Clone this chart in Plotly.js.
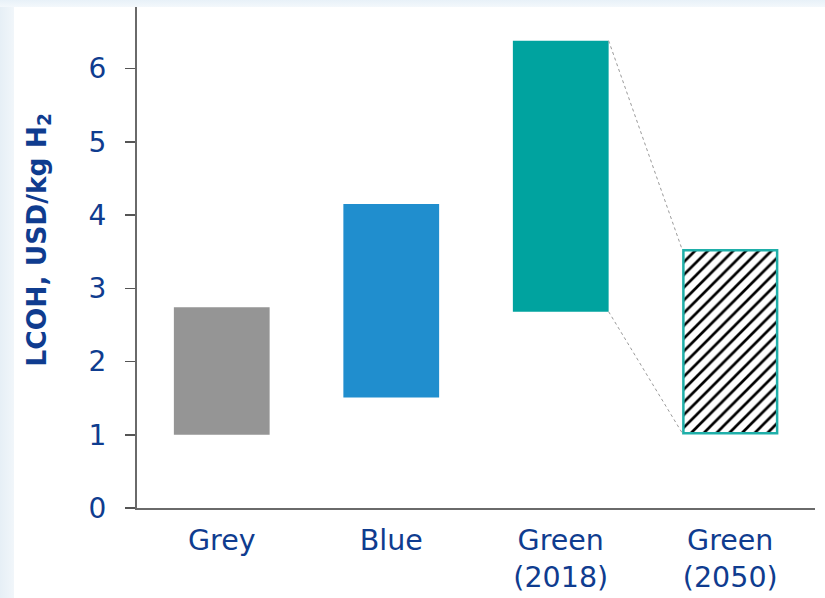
<!DOCTYPE html>
<html>
<head>
<meta charset="utf-8">
<script src="https://cdn.plot.ly/plotly-3.0.1.min.js"></script>
<style>
  html, body { margin: 0; padding: 0; background: #ffffff; }
  #wrap {
    width: 825px; height: 598px; position: relative;
    background:
      linear-gradient(to bottom, #e8f1f8 0px, #f3f8fc 7px, rgba(255,255,255,0) 7px),
      linear-gradient(to right, #e6eff6 0px, #f1f6fa 14px, rgba(255,255,255,0) 14px),
      #ffffff;
  }
  #chart { width: 825px; height: 598px; }
</style>
</head>
<body>
<div id="wrap"><div id="chart"></div></div>
<script>
// ---- data ----
const categories = ["Grey", "Blue", "Green<br>(2018)", "Green<br>(2050)"];
const lowValues  = [1.00, 1.51, 2.68, 1.02];
const highValues = [2.74, 4.15, 6.38, 3.52];
const barColors  = ["#959595", "#208ECE", "#00A39F"];
const yTickValues = [0, 1, 2, 3, 4, 5, 6];
const yTickLabels = ["0", "1", "2", "3", "4", "5", "6"];
const yAxisTitle = "<b>LCOH, USD/kg H<sub>2</sub></b>";

// ---- styles ----
const textColor = "#0F3C8F";
const fontFamily = "DejaVu Sans, Verdana, sans-serif";
const barWidth = 0.565;

const solidCats = categories.slice(0, 3);
const solidLow = lowValues.slice(0, 3);
const solidHigh = highValues.slice(0, 3);

const traceSolid = {
  type: "bar",
  x: solidCats,
  base: solidLow,
  y: solidHigh.map((h, i) => h - solidLow[i]),
  width: barWidth,
  marker: { color: barColors, line: { width: 0 } },
  hoverinfo: "skip"
};

const traceFuture = {
  type: "bar",
  x: [categories[3]],
  base: [lowValues[3]],
  y: [highValues[3] - lowValues[3]],
  width: barWidth - 0.012,
  marker: {
    color: "#ffffff",
    line: { width: 2.5, color: "#1FAFA9" },
    pattern: { shape: "/", fgcolor: "#000000", bgcolor: "#ffffff", size: 9, solidity: 0.3 }
  },
  hoverinfo: "skip"
};

// connector lines between Green (2018) and Green (2050), positioned on the category axis
const xRight2018 = 2 + barWidth / 2;
const xLeft2050 = 3 - barWidth / 2;
const connectorStyle = { color: "#9a9a9a", width: 1, dash: "dot" };
const shapes = [
  { type: "line", xref: "x", yref: "y", x0: xRight2018, x1: xLeft2050,
    y0: highValues[2], y1: highValues[3], line: connectorStyle },
  { type: "line", xref: "x", yref: "y", x0: xRight2018, x1: xLeft2050,
    y0: lowValues[2], y1: lowValues[3], line: connectorStyle }
];

const layout = {
  width: 825, height: 598,
  margin: { l: 137, r: 10, t: 7, b: 90 },
  paper_bgcolor: "rgba(0,0,0,0)",
  plot_bgcolor: "rgba(0,0,0,0)",
  showlegend: false,
  barmode: "overlay",
  font: { family: fontFamily, color: textColor, size: 28 },
  xaxis: {
    type: "category",
    categoryarray: categories,
    range: [-0.5, 3.5],
    showline: true, linecolor: "#6a6a6a", linewidth: 2,
    ticks: "", showgrid: false, zeroline: false,
    tickfont: { family: fontFamily, size: 28.5, color: textColor },
    ticklabelstandoff: 6
  },
  yaxis: {
    range: [0, 6.84],
    tickvals: yTickValues, ticktext: yTickLabels,
    ticks: "outside", ticklen: 10, tickwidth: 1.5, tickcolor: "#555555",
    showline: true, linecolor: "#6a6a6a", linewidth: 2,
    showgrid: false, zeroline: false,
    tickfont: { family: fontFamily, size: 28, color: textColor },
    ticklabelstandoff: 13
  },
  shapes: shapes,
  annotations: [{
    text: yAxisTitle,
    xref: "paper", yref: "paper",
    x: -0.145, y: 0.535,
    xanchor: "center", yanchor: "middle",
    textangle: -90, showarrow: false,
    font: { family: fontFamily, size: 26.5, color: textColor }
  }]
};

Plotly.newPlot("chart", [traceSolid, traceFuture], layout, { displayModeBar: false, staticPlot: true });
</script>
</body>
</html>
